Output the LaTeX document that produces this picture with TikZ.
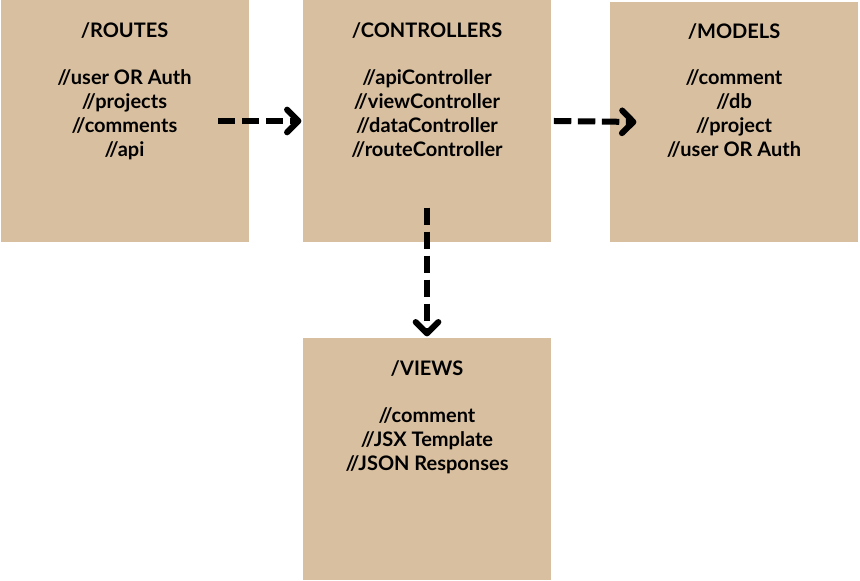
\documentclass[tikz,border=0pt]{standalone}
\usepackage{fontspec}
\setmainfont{Lato}
\usepackage{tikz}
\usetikzlibrary{arrows.meta,positioning}
\definecolor{Tan}{HTML}{D8BFA0}

\begin{document}
\begin{tikzpicture}[x=0.75pt, y=0.75pt, >={Straight Barb[length=8.5pt,width=17pt,line cap=round,line join=round]},
        box/.style={fill=Tan, draw=none, minimum width=186pt, minimum height=181.5pt, inner sep=0pt},
        txt/.style={align=center, font=\fontsize{15}{18}\selectfont\bfseries, inner sep=0pt},
        flow/.style={->, line width=4.5pt, dash pattern=on 13pt off 5pt}]
        \useasboundingbox (0, 0) rectangle (860, 581);
        \node[box] (routes) at (124.5, 460) {};
        \node[box] (ctrl) at (427, 460) {};
        \node[box, minimum height=180pt] (models) at (734, 459) {};
        \node[box] (views) at (427, 122) {};
        \node[txt, below=17pt of routes.north] (routesText) {/ROUTES\\[17pt]//user OR Auth\\//projects\\//comments\\//api};
        \node[txt, below=17pt of ctrl.north] (ctrlText) {/CONTROLLERS\\[17pt]//apiController\\//viewController\\//dataController\\//routeController};
        \node[txt, below=16pt of models.north] (modelsText) {/MODELS\\[17pt]//comment\\//db\\//project\\//user OR Auth};
        \node[txt, below=17pt of views.north] (viewsText) {/VIEWS\\[17pt]//comment\\//JSX Template\\//JSON Responses};
        \draw[flow] ([xshift=-23pt]routes.east) -- ([xshift=-1pt]ctrl.west);
        \draw[flow] ([xshift=2pt]ctrl.east) -- ([xshift=20pt]models.west);
        \draw[flow] ([yshift=26pt]ctrl.south) -- ([yshift=1pt]views.north);
    \end{tikzpicture}
\end{document}
